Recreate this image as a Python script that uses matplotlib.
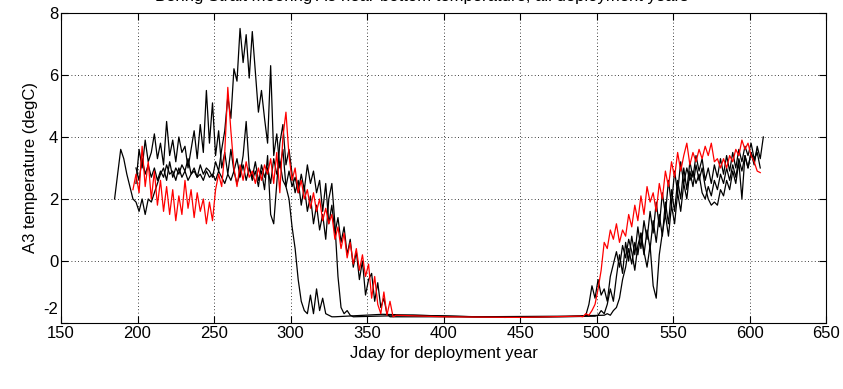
import numpy as np
import matplotlib.pyplot as plt
from matplotlib.transforms import ScaledTranslation

plt.rcParams['font.family'] = ['Liberation Sans', 'DejaVu Sans']
plt.rcParams['axes.unicode_minus'] = False

# ---- data (degC) ----
# each trace: summer/autumn segment sampled every 2 days from a start Jday,
# a few points on the winter floor, then the spring segment every 2 days.

# black 1: big summer peak, reaches the floor first
b1_start, b1_vals = 185, [
    2.0, 2.8, 3.6, 3.3, 2.8, 2.4, 2.0, 1.9, 1.6, 2.0, 1.5, 2.0, 1.9, 2.2, 2.5,
    2.8, 3.0, 2.6, 3.2, 2.7, 3.0, 2.8, 3.1, 2.9, 3.3, 2.8, 3.0, 2.7, 3.1, 2.8,
    3.0, 2.9, 2.7, 3.2, 2.9, 3.6, 4.2, 5.3, 4.6, 6.2, 5.8, 7.5, 6.4, 7.3, 5.9,
    7.4, 6.1, 4.8, 5.5, 4.6, 3.8, 6.3, 3.4, 4.1, 3.0, 3.6, 2.4, 2.0, 1.1, 0.4,
    -0.6, -1.3, -1.6, -1.7, -1.1, -1.7, -0.9, -1.6, -1.2, -1.7, -1.75, -1.8, -1.8]
b1_floor_day = [360, 420, 480]
b1_floor_val = [-1.72, -1.8, -1.78]
b1_spring_start, b1_spring = 505, [
    -1.75, -1.7, -1.75, -1.6, -1.5, -1.2, -0.6, -0.2, 0.4, -0.1, 0.6, 0.2, 0.9,
    0.3, -0.2, 0.5, -0.8, -1.2, 0.2, 0.9, 1.5, 0.8, 1.8, 1.2, 2.2, 1.6, 2.5,
    2.0, 2.9, 2.4, 3.1, 2.6, 3.0, 2.4, 2.0, 1.8, 1.9, 1.8, 2.3, 2.1, 2.6, 2.3,
    2.9, 2.5, 3.2, 2.0, 3.4, 3.0, 3.5, 3.1, 3.7, 3.3, 4.0]

# black 2: upper trace in early summer, reaches the floor near day 335
b2_start, b2_vals = 199, [
    2.5, 3.6, 3.0, 3.9, 3.2, 3.5, 4.1, 3.3, 3.8, 3.1, 4.5, 3.4, 3.9, 3.2, 4.0,
    3.5, 3.7, 3.0, 3.6, 4.2, 3.3, 4.4, 3.5, 5.5, 3.8, 5.1, 3.4, 4.2, 3.0, 3.5,
    2.8, 3.6, 2.9, 3.3, 2.7, 3.1, 2.6, 3.0, 2.7, 3.2, 2.6, 2.9, 2.3, 3.4, 1.5,
    1.2, 2.5, 3.8, 4.4, 3.1, 3.6, 2.8, 2.2, 2.6, 1.8, 2.4, 1.6, 2.1, 1.2, 1.8,
    1.0, 1.5, 0.7, 2.0, 2.5, 1.2, -0.5, -1.5, -1.7, -1.6, -1.75, -1.8]
b2_floor_day = [380, 440, 490]
b2_floor_val = [-1.75, -1.82, -1.79]
b2_spring_start, b2_spring = 493, [
    -1.75, -1.4, -0.8, -1.2, -0.6, -1.1, -0.9, -1.3, -0.5, -0.1, 0.3, -0.2, 0.5,
    0.1, 0.7, 0.3, -0.3, 0.5, 0.9, 0.2, 1.0, 0.4, 1.3, 0.6, 1.5, 0.8, 1.9, 1.2,
    2.3, 1.6, 2.6, 2.0, 3.0, 2.3, 3.2, 2.7, 3.4, 2.9, 3.3, 2.6, 3.0, 2.5, 3.1,
    2.7, 3.3, 2.8, 3.4, 2.9, 3.5, 3.0, 3.6, 3.2, 3.7, 3.4, 3.8, 3.3, 3.5, 3.0]

# black 3: middle trace, slow autumn cooling
b3_start, b3_vals = 199, [
    3.0, 2.6, 3.3, 2.8, 3.1, 2.7, 3.0, 2.6, 2.9, 2.7, 3.1, 2.8, 2.9, 2.6, 3.0,
    2.7, 2.9, 2.6, 2.8, 2.9, 2.7, 2.8, 2.6, 2.9, 2.7, 2.8, 2.6, 2.9, 2.7, 2.5,
    2.8, 2.6, 2.9, 2.5, 2.8, 3.4, 4.5, 3.0, 2.6, 2.9, 2.4, 3.1, 2.7, 3.0, 2.5,
    3.3, 2.8, 3.2, 2.6, 2.4, 2.9, 2.4, 2.7, 2.2, 2.8, 2.3, 3.1, 2.5, 2.9, 2.2,
    2.6, 1.6, 2.5, 1.2, 1.8, 0.9, 1.4, 0.6, 1.1, 0.2, 0.7, -0.2, 0.3, -0.6, 0.0,
    -1.1, -0.6, -0.4, -1.3, -0.7, -1.5, -1.2, -1.7, -1.8]
b3_floor_day = [400, 450, 499]
b3_floor_val = [-1.8, -1.81, -1.78]
b3_spring_start, b3_spring = 501, [
    -1.75, -1.6, -1.7, -1.4, -0.9, -1.3, -0.5, 0.2, -0.4, 0.6, 0.0, 0.8, 0.2,
    1.1, 0.4, 1.3, 0.7, 1.6, 0.9, 1.9, 1.1, 2.2, 1.5, 2.6, 1.8, 2.9, 2.2, 3.2,
    2.5, 3.0, 2.6, 2.9, 2.5, 2.8, 2.2, 2.0, 2.4, 2.1, 2.6, 2.3, 2.8, 2.5, 3.0,
    2.6, 3.1, 2.7, 3.3, 2.9, 3.4, 3.0, 3.5, 3.2, 3.6]

# red trace
red_start, red_vals = 197, [
    2.3, 2.8, 2.2, 3.7, 2.4, 3.2, 2.0, 2.9, 1.8, 2.6, 1.6, 2.4, 1.5, 2.3, 1.3,
    2.1, 1.5, 2.6, 1.7, 2.3, 1.4, 2.2, 1.6, 2.0, 1.2, 1.9, 1.3, 2.3, 2.8, 2.4,
    3.5, 5.6, 4.2, 3.0, 2.4, 3.1, 2.6, 3.2, 2.7, 2.9, 2.5, 3.0, 2.6, 3.1, 2.8,
    3.3, 2.5, 3.5, 2.2, 4.0, 4.8, 3.4, 2.6, 3.0, 2.2, 2.6, 2.0, 2.3, 1.7, 2.2,
    1.6, 2.0, 1.3, 1.7, 1.2, 1.5, 0.7, 1.1, 0.4, 0.9, 0.1, 0.6, -0.1, 0.4, -0.3,
    0.2, -0.5, -0.1, -1.2, -0.5, -1.4, -1.7, -1.0, -1.75, -1.3, -1.8, -1.75]
red_floor_day = [400, 450, 489]
red_floor_val = [-1.8, -1.82, -1.78]
red_spring_start, red_spring = 491, [
    -1.8, -1.7, -1.75, -1.6, -1.4, -0.9, -0.3, 0.6, 0.4, 1.0, 0.7, 1.2, 0.6,
    1.0, 0.8, 1.5, 1.1, 1.8, 1.3, 2.1, 1.5, 2.4, 1.9, 2.2, 1.6, 2.5, 2.0, 2.9,
    2.4, 3.2, 2.7, 3.5, 2.9, 3.4, 3.8, 3.1, 3.5, 3.2, 3.6, 3.3, 3.7, 3.4, 3.8,
    3.2, 3.3, 3.0, 3.3, 3.0, 3.4, 3.2, 3.6, 3.4, 3.9, 3.6, 3.8, 3.4, 3.2, 2.9,
    2.85]


def trace(start, vals, floor_day, floor_val, spring_start, spring):
    d1 = start + 2 * np.arange(len(vals))
    d2 = spring_start + 2 * np.arange(len(spring))
    days = np.concatenate([d1, floor_day, d2])
    temps = np.concatenate([vals, floor_val, spring])
    return days, temps


fig = plt.figure(figsize=(8.43, 3.89), dpi=100)
ax = fig.add_axes([0.0724, 0.1697, 0.9075, 0.797])

for args in [(b1_start, b1_vals, b1_floor_day, b1_floor_val, b1_spring_start, b1_spring),
             (b2_start, b2_vals, b2_floor_day, b2_floor_val, b2_spring_start, b2_spring),
             (b3_start, b3_vals, b3_floor_day, b3_floor_val, b3_spring_start, b3_spring)]:
    d, t = trace(*args)
    ax.plot(d, t, color='black', lw=0.9)
d, t = trace(red_start, red_vals, red_floor_day, red_floor_val, red_spring_start, red_spring)
ax.plot(d, t, color='red', lw=0.9)

ax.set_xlim(150, 650)
ax.set_ylim(-2, 8)
ax.set_xticks(range(150, 651, 50))
ax.set_yticks(range(-2, 9, 2))
ax.grid(True, color='black', linestyle=(0, (1, 3)), linewidth=0.6)
ax.tick_params(direction='in', top=True, right=True, labelsize=12, length=5, pad=2)
ax.set_xlabel('Jday for deployment year', fontsize=12, labelpad=4)
ax.set_ylabel('A3 temperature (degC)', fontsize=12, labelpad=4)

# the lowest y label sits raised above the corner, as in the original
fig.canvas.draw()
low = ax.get_yticklabels()[0]
low.set_verticalalignment('bottom')
low.set_transform(low.get_transform() + ScaledTranslation(0, 4 / 72, fig.dpi_scale_trans))

# title sits almost entirely above the visible canvas
fig.text(0.5, 1 - 0.5 / 389, 'Bering Strait mooring A3 near-bottom temperature, all deployment years',
         ha='center', va='baseline', fontsize=12)

fig.savefig('out.png', dpi=100)
